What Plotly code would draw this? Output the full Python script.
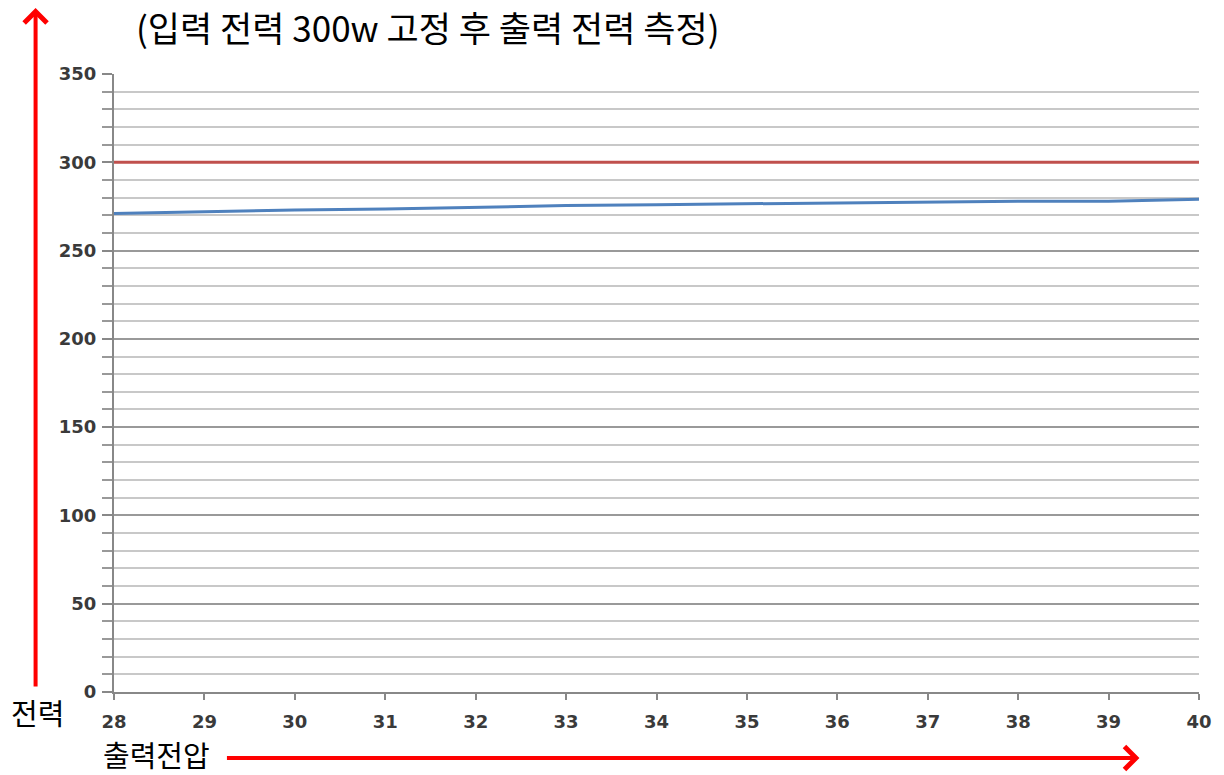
import plotly.graph_objects as go

voltage = [28, 29, 30, 31, 32, 33, 34, 35, 36, 37, 38, 39, 40]
input_power = [300, 300, 300, 300, 300, 300, 300, 300, 300, 300, 300, 300, 300]
output_power = [271, 272, 273, 273.5, 274.5, 275.5, 276, 276.5, 277, 277.5, 278, 278, 279]

subtitle = "(입력 전력 300w 고정 후 출력 전력 측정)"
y_label = "전력"
x_label = "출력전압"

W, H = 1224, 775
L, R, T, B = 114, 17, 74, 83
pw, ph = W - L - R, H - T - B

def px(x):
    return (x - L) / pw

def py(y):
    return (H - B - y) / ph

tickfont = dict(family="DejaVu Sans", size=18, color="#3a3a3a", weight="bold")
kfont = dict(family="Noto Sans CJK KR", size=29, color="black")
tfont = dict(family="Noto Sans CJK KR", size=35, color="black")

fig = go.Figure()
fig.add_trace(go.Scatter(x=voltage, y=input_power, mode="lines",
                         line=dict(color="#C0504D", width=3), showlegend=False))
fig.add_trace(go.Scatter(x=voltage, y=output_power, mode="lines",
                         line=dict(color="#4F81BD", width=3), showlegend=False))

fig.update_layout(
    width=W, height=H,
    margin=dict(l=L, r=R, t=T, b=B),
    plot_bgcolor="white", paper_bgcolor="white",
    xaxis=dict(range=[28, 40], dtick=1, tick0=28, showgrid=False, zeroline=False,
               showline=True, linecolor="#888888", linewidth=2,
               ticks="outside", ticklen=6, tickwidth=2, tickcolor="#888888",
               tickfont=tickfont, ticklabelstandoff=6),
    yaxis=dict(range=[0, 350], dtick=50, tick0=0, showgrid=True, gridcolor="#999999",
               gridwidth=1.5, zeroline=False,
               showline=True, linecolor="#888888", linewidth=2,
               ticks="outside", ticklen=10, tickwidth=2, tickcolor="#888888",
               tickfont=tickfont, ticklabelstandoff=2,
               minor=dict(dtick=10, showgrid=True, gridcolor="#C8C8C8", gridwidth=1.5,
                          ticks="outside", ticklen=10, tickwidth=2, tickcolor="#999999")),
)

fig.add_annotation(text=subtitle, xref="paper", yref="paper", x=px(430), y=py(26),
                   showarrow=False, font=tfont, xanchor="center", yanchor="middle",
                   borderpad=0)
fig.add_annotation(text=y_label, xref="paper", yref="paper", x=px(37), y=py(712),
                   showarrow=False, font=kfont, xanchor="center", yanchor="middle",
                   borderpad=0)
fig.add_annotation(text=x_label, xref="paper", yref="paper", x=px(157), y=py(754),
                   showarrow=False, font=kfont, xanchor="center", yanchor="middle",
                   borderpad=0)

# red arrows
fig.add_annotation(text="", xref="paper", yref="paper", x=px(35), y=py(8),
                   ax=0, ay=680, showarrow=True, arrowhead=4, arrowwidth=4,
                   arrowsize=1.1, arrowcolor="#FF0000")
fig.add_annotation(text="", xref="paper", yref="paper", x=px(1147), y=py(758),
                   ax=-914, ay=0, showarrow=True, arrowhead=4, arrowwidth=4,
                   arrowsize=1.1, arrowcolor="#FF0000")

fig.write_html("out.html", config={"displayModeBar": False},
               post_script="document.body.style.margin='0px';document.body.style.overflow='hidden';")
